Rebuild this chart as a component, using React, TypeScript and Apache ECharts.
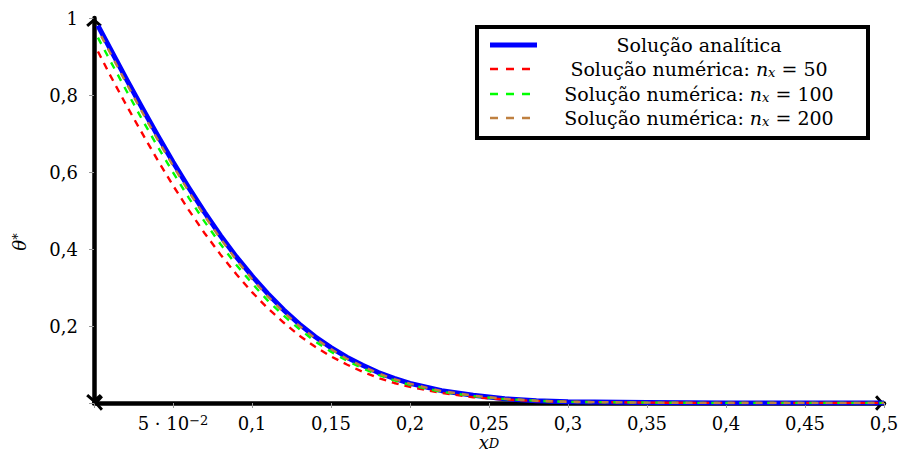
import { useEffect, useRef } from "react";
import * as echarts from "echarts";

// Dimensionless position x_D at which the profiles are sampled
const xD = [
  0.0025, 0.01, 0.02, 0.03, 0.04, 0.05, 0.06, 0.07, 0.08, 0.09, 0.1, 0.11, 0.12, 0.13, 0.14,
  0.15, 0.16, 0.17, 0.18, 0.19, 0.2, 0.22, 0.24, 0.26, 0.28, 0.3, 0.35, 0.4, 0.45, 0.5,
];

// θ* profiles
const analytic = [
  0.98, 0.922, 0.845, 0.77, 0.697, 0.626, 0.559, 0.495, 0.435, 0.38, 0.33, 0.284, 0.242, 0.205,
  0.172, 0.144, 0.119, 0.098, 0.079, 0.064, 0.051, 0.032, 0.02, 0.011, 0.006, 0.003, 0.001, 0, 0, 0,
];
const numeric50 = [
  0.913, 0.853, 0.777, 0.704, 0.633, 0.565, 0.501, 0.441, 0.386, 0.335, 0.288, 0.246, 0.209,
  0.175, 0.146, 0.121, 0.1, 0.081, 0.065, 0.052, 0.042, 0.026, 0.015, 0.009, 0.005, 0.003, 0.001,
  0, 0, 0,
];
const numeric100 = [
  0.949, 0.891, 0.815, 0.74, 0.668, 0.599, 0.533, 0.471, 0.413, 0.359, 0.311, 0.266, 0.227,
  0.192, 0.16, 0.133, 0.11, 0.09, 0.073, 0.059, 0.047, 0.029, 0.018, 0.01, 0.006, 0.003, 0.001,
  0, 0, 0,
];
const numeric200 = [
  0.969, 0.911, 0.834, 0.759, 0.686, 0.616, 0.549, 0.486, 0.427, 0.372, 0.322, 0.277, 0.236,
  0.2, 0.168, 0.14, 0.115, 0.095, 0.077, 0.062, 0.05, 0.031, 0.019, 0.011, 0.006, 0.003, 0.001,
  0, 0, 0,
];

const gridSizes = [50, 100, 200];
const analyticName = "Solução analítica";
const numericPrefix = "Solução numérica: ";

const FONT = "DejaVu Serif";
const FS = 18;
const LFS = 19;

const pairs = (ys: number[]) => xD.map((x, i) => [x, ys[i]]);

// thick open chevron used as the axis arrow heads (points up, rotated by ECharts)
const CHEVRON = "path://M8 0 L16 7 L14 9.2 L8 4 L2 9.2 L0 7 Z";

const makeRich = (size: number, tight = false) => ({
  it: {
    fontFamily: FONT,
    fontSize: size,
    fontStyle: "italic",
    color: "#000",
    ...(tight ? { lineHeight: Math.round(size * 0.9) } : {}),
  },
  sub: {
    fontFamily: FONT,
    fontSize: Math.round(size * 0.7),
    fontStyle: "italic",
    color: "#000",
    verticalAlign: "bottom",
    lineHeight: 8,
  },
  sup: {
    fontFamily: FONT,
    fontSize: Math.round(size * 0.7),
    color: "#000",
    verticalAlign: "top",
    lineHeight: 8,
  },
});

const fmtComma = (v: number) => {
  const r = Number(v.toFixed(3));
  return String(r).replace(".", ",");
};

export default function App() {
  const ref = useRef<HTMLDivElement>(null);

  useEffect(() => {
    const chart = echarts.init(ref.current!, null, { renderer: "svg" });

    const styles = [
      { name: analyticName, data: analytic, color: "#0000ff", width: 5, dash: null as number[] | null, off: 0 },
      { name: `${numericPrefix}nx = ${gridSizes[0]}`, data: numeric50, color: "#ff0000", width: 2.4, dash: [7, 6], off: 0 },
      { name: `${numericPrefix}nx = ${gridSizes[1]}`, data: numeric100, color: "#00ff00", width: 2.4, dash: [7, 7], off: 0 },
      { name: `${numericPrefix}nx = ${gridSizes[2]}`, data: numeric200, color: "#bf8040", width: 2.4, dash: [7, 7], off: 7 },
    ];

    const legendLabels = [
      analyticName,
      ...gridSizes.map((n) => `${numericPrefix}{it|n}{sub|x} = ${n}`),
    ];
    const legendX = 477;
    const legendY = 27;
    const legendW = 391;
    const legendH = 111;
    const rowY = [45, 69, 94, 118];

    const legendItems: any[] = [
      {
        type: "rect",
        shape: { x: legendX, y: legendY, width: legendW, height: legendH },
        style: { fill: "#fff", stroke: "#000", lineWidth: 4 },
        z: 100,
      },
    ];
    styles.forEach((s, i) => {
      legendItems.push({
        type: "line",
        shape: { x1: 490, y1: rowY[i], x2: 537, y2: rowY[i] },
        style: {
          stroke: s.color,
          lineWidth: s.width,
          lineDash: s.dash ? [8, 8] : null,
        },
        z: 101,
      });
      legendItems.push({
        type: "text",
        x: 699,
        y: rowY[i],
        style: {
          text: legendLabels[i],
          font: `${LFS}px '${FONT}'`,
          fontFamily: FONT,
          fontSize: LFS,
          fill: "#000",
          align: "center",
          verticalAlign: "middle",
          rich: makeRich(LFS),
        },
        z: 101,
      });
    });

    const axisTitle = (text: string, x: number, y: number, rotation: number) => ({
      type: "text",
      x,
      y,
      rotation,
      style: {
        text,
        font: `${FS}px '${FONT}'`,
        fontFamily: FONT,
        fontSize: FS,
        lineHeight: 16,
        fill: "#000",
        align: "center",
        verticalAlign: "middle",
        rich: makeRich(FS, true),
      },
    });

    const option: any = {
      animation: false,
      backgroundColor: "#fff",
      textStyle: { fontFamily: FONT },
      grid: {
        left: 94,
        right: 18,
        top: 18,
        bottom: 49,
        containLabel: false,
        outerBoundsMode: "none",
      },
      xAxis: {
        type: "value",
        min: 0,
        max: 0.5,
        interval: 0.05,
        axisLine: {
          show: true,
          onZero: false,
          symbol: [CHEVRON, CHEVRON],
          symbolSize: [16, 9],
          symbolOffset: [4.5, -4.5],
          lineStyle: { color: "#000", width: 4.5 },
        },
        axisTick: { show: true, length: 5, lineStyle: { color: "#999", width: 1 } },
        splitLine: { show: false },
        axisLabel: {
          margin: 11,
          fontFamily: FONT,
          fontSize: FS,
          lineHeight: 18,
          color: "#000",
          rich: makeRich(FS),
          formatter: (v: number) => {
            const r = Number(v.toFixed(3));
            if (r === 0) return "";
            if (r === 0.05) return "5 · 10{sup|−2}";
            return fmtComma(r);
          },
        },
      },
      yAxis: {
        type: "value",
        min: 0,
        max: 1,
        interval: 0.2,
        axisLine: {
          show: true,
          symbol: [CHEVRON, CHEVRON],
          symbolSize: [16, 9],
          symbolOffset: [4.5, -4.5],
          lineStyle: { color: "#000", width: 4.5 },
        },
        axisTick: { show: true, length: 5, lineStyle: { color: "#999", width: 1 } },
        splitLine: { show: false },
        axisLabel: {
          margin: 16,
          fontFamily: FONT,
          fontSize: FS,
          color: "#000",
          formatter: (v: number) => {
            const r = Number(v.toFixed(3));
            if (r === 0) return "";
            return fmtComma(r);
          },
        },
      },
      series: styles.map((s, i) => ({
        type: "line",
        name: s.name,
        data: pairs(s.data),
        showSymbol: false,
        symbol: "none",
        smooth: false,
        itemStyle: { color: s.color },
        lineStyle: {
          color: s.color,
          width: s.width,
          type: s.dash ? s.dash : "solid",
          dashOffset: s.off,
          cap: "butt",
          join: "round",
        },
        z: 3 + i,
      })),
      graphic: [
        axisTitle("{it|θ}{sup|*}", 19, 242, Math.PI / 2),
        axisTitle("{it|x}{sub|D}", 489, 442, 0),
        ...legendItems,
      ],
    };

    chart.setOption(option);
    return () => chart.dispose();
  }, []);

  return (
    <div
      ref={ref}
      style={{ position: "absolute", left: 0, top: 0, width: 902, height: 452, background: "#fff" }}
    />
  );
}
